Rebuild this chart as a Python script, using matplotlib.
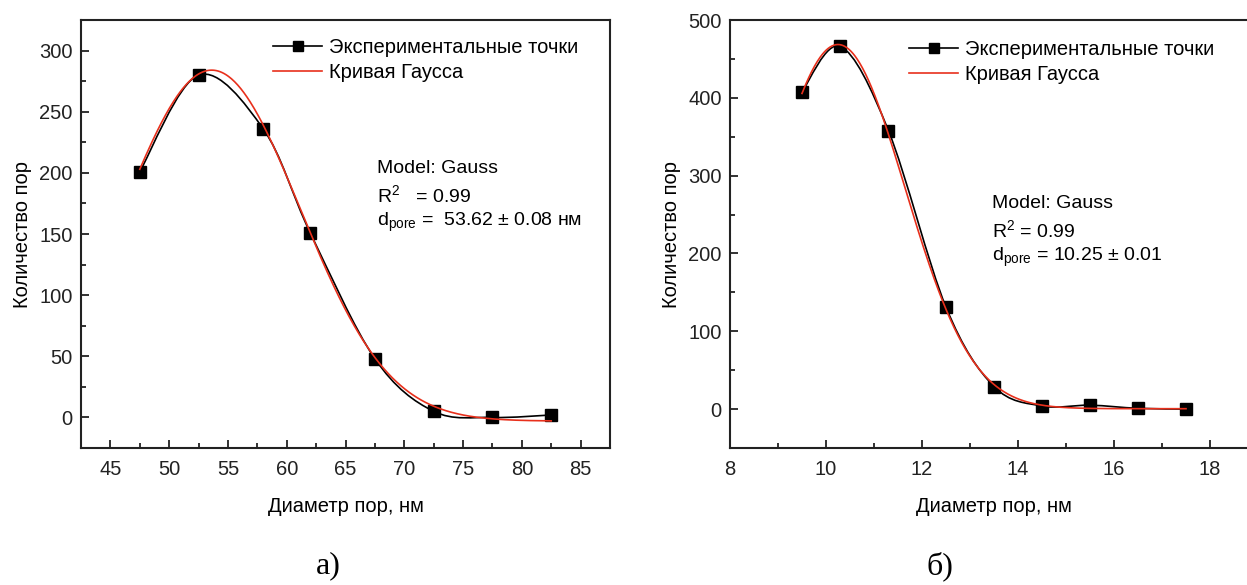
import numpy as np
import matplotlib
matplotlib.use("Agg")
import matplotlib.pyplot as plt
from matplotlib.path import Path
from matplotlib.patches import PathPatch
from matplotlib.ticker import MultipleLocator
from matplotlib.lines import Line2D

plt.rcParams['font.family'] = ['Liberation Sans', 'DejaVu Sans']

# panel a) experimental points
d_a = [47.5, 52.5, 58.0, 62.0, 67.5, 72.5, 77.5, 82.5]
n_a = [201, 280, 236, 151, 48, 5, 0, 2]
# gauss fit parameters a): y0, A, xc, w
gauss_a = (-3.0, 287.0, 53.62, 7.51)

# panel б) experimental points
d_b = [9.5, 10.3, 11.3, 12.5, 13.5, 14.5, 15.5, 16.5, 17.5]
n_b = [408, 466, 358, 131, 29, 4, 5, 1, 0]
gauss_b = (0.5, 468.0, 10.25, 1.396)

W, H = 1247, 585
fig = plt.figure(figsize=(W / 100, H / 100), dpi=100)


def px_axes(x0, y0, x1, y1):
    # pixel box (top-left origin) -> figure fraction
    return fig.add_axes([x0 / W, 1 - y1 / H, (x1 - x0) / W, (y1 - y0) / H])


def spline_path(x, y):
    # smooth connecting line through the points (Catmull-Rom as Bezier)
    x = np.asarray(x, float)
    y = np.asarray(y, float)
    verts = [(x[0], y[0])]
    codes = [Path.MOVETO]
    n = len(x)
    for i in range(n - 1):
        i0 = max(i - 1, 0)
        i3 = min(i + 2, n - 1)
        c1 = (x[i] + (x[i + 1] - x[i0]) / 6, y[i] + (y[i + 1] - y[i0]) / 6)
        c2 = (x[i + 1] - (x[i3] - x[i]) / 6, y[i + 1] - (y[i3] - y[i]) / 6)
        verts += [c1, c2, (x[i + 1], y[i + 1])]
        codes += [Path.CURVE4] * 3
    return Path(verts, codes)


def gauss(x, p):
    y0, A, xc, w = p
    return y0 + A * np.exp(-(x - xc) ** 2 / (2 * w ** 2))


def panel(ax, d, n, p, xlim, ylim, xmaj, xmin, ymaj, ymin, ann, ann_pos, leg_pos):
    ax.add_patch(PathPatch(spline_path(d, n), fill=False, color='black', lw=1.2, zorder=2))
    ax.plot(d, n, ls='none', marker='s', ms=8.5, color='black', zorder=3)
    xs = np.linspace(d[0], d[-1], 400)
    ax.plot(xs, gauss(xs, p), color='#e8301c', lw=1.2, zorder=4)
    ax.set_xlim(*xlim)
    ax.set_ylim(*ylim)
    ax.xaxis.set_major_locator(MultipleLocator(xmaj))
    ax.xaxis.set_minor_locator(MultipleLocator(xmin))
    ax.yaxis.set_major_locator(MultipleLocator(ymaj))
    ax.yaxis.set_minor_locator(MultipleLocator(ymin))
    ax.tick_params(which='both', direction='in', top=False, right=False,
                   labelsize=14.5, width=1.3, colors='#222222')
    ax.tick_params(which='major', length=6)
    ax.tick_params(which='minor', length=3.5)
    ax.tick_params(axis='x', pad=8.5)
    ax.tick_params(axis='y', pad=6)
    for s in ax.spines.values():
        s.set_linewidth(1.5)
        s.set_color('#222222')
    ax.set_xlabel('Диаметр пор, нм', fontsize=14.5, labelpad=13)
    ax.set_ylabel('Количество пор', fontsize=14.5, labelpad=5)
    handles = [Line2D([], [], color='black', marker='s', ms=7, lw=1.2),
               Line2D([], [], color='#e8301c', lw=1.2)]
    ax.legend(handles, ['Экспериментальные точки', 'Кривая Гаусса'], loc='upper left',
              bbox_to_anchor=leg_pos, frameon=False, fontsize=14.5,
              handlelength=2.45, handletextpad=0.35, labelspacing=0.3, borderpad=0,
              borderaxespad=0)
    ax.text(ann_pos[0], ann_pos[1], ann, transform=ax.transAxes, fontsize=14,
            va='top', ha='left', linespacing=1.36)


ax1 = px_axes(81, 20, 610, 448)
panel(ax1, d_a, n_a, gauss_a, (42.5, 87.5), (-25, 325), 5, 2.5, 50, 25,
      'Model: Gauss\n$\\mathregular{R^{2}}$   = 0.99\n$\\mathregular{d_{pore}}$ =  53.62 ± 0.08 нм',
      (0.56, 0.672), (0.363, 0.958))

ax2 = px_axes(730, 20, 1258, 448)
panel(ax2, d_b, n_b, gauss_b, (8, 19), (-50, 500), 2, 1, 100, 50,
      'Model: Gauss\n$\\mathregular{R^{2}}$ = 0.99\n$\\mathregular{d_{pore}}$ = 10.25 ± 0.01',
      (0.497, 0.59), (0.339, 0.953))

fig.text(328 / W, 1 - 566 / H, 'а)', fontsize=23, family='Liberation Serif', ha='center', va='center')
fig.text(940 / W, 1 - 566 / H, 'б)', fontsize=23, family='Liberation Serif', ha='center', va='center')

fig.savefig('out.png', dpi=100)
